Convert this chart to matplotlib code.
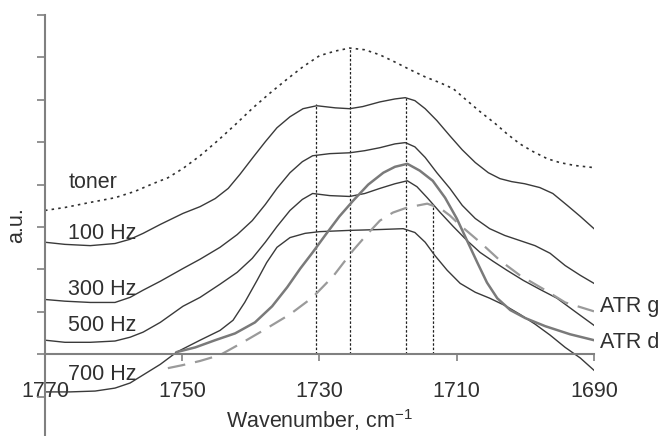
import numpy as np
import matplotlib.pyplot as plt

plt.rcParams['font.family'] = ['Liberation Sans', 'DejaVu Sans']
plt.rcParams['mathtext.fontset'] = 'custom'
plt.rcParams['mathtext.rm'] = 'Liberation Sans'
plt.rcParams['mathtext.default'] = 'regular'
fonts = 15.5
txt_col = '#303030'

# spectra (wavenumber in cm-1, absorbance in a.u.)
toner_wn = [1770, 1767.1, 1763.4, 1759.8, 1756.9, 1754.3, 1752.1, 1749.9, 1747.4, 1744.8, 1742.3, 1739.7,
            1737.2, 1734.7, 1732.4, 1730, 1727.7, 1725.6, 1723.4, 1721.2, 1719, 1716.8, 1714.6, 1712.4,
            1710.5, 1708.5, 1706.6, 1704.4, 1702.7, 1700.8, 1698.9, 1696.8, 1695, 1692.8, 1690]
toner_y = [3.39, 3.46, 3.58, 3.69, 3.84, 4.02, 4.16, 4.38, 4.68, 5.04, 5.41, 5.81,
           6.16, 6.49, 6.78, 7.04, 7.15, 7.22, 7.18, 7.06, 6.89, 6.71, 6.54, 6.40,
           6.26, 5.98, 5.72, 5.44, 5.20, 4.96, 4.78, 4.61, 4.52, 4.45, 4.40]

hz100_wn = [1770, 1767.1, 1763.4, 1759.8, 1757.6, 1755.7, 1753.2, 1749.9, 1747.4, 1745.2, 1743.3, 1741.6,
            1739.7, 1737.9, 1736.2, 1734.3, 1732.4, 1730.4, 1727.7, 1725.6, 1723.7, 1721.2, 1719, 1717.5,
            1716.1, 1714.6, 1712.9, 1711, 1709.2, 1707.3, 1705.4, 1703.7, 1702, 1700.1, 1697.9, 1696,
            1693.9, 1692, 1690]
hz100_y = [2.64, 2.59, 2.56, 2.61, 2.71, 2.85, 3.06, 3.32, 3.48, 3.67, 3.91, 4.24,
           4.64, 5.01, 5.34, 5.60, 5.79, 5.86, 5.81, 5.79, 5.84, 5.95, 6.02, 6.05,
           5.98, 5.79, 5.51, 5.15, 4.82, 4.52, 4.28, 4.14, 4.07, 4.02, 3.93, 3.79,
           3.51, 3.25, 2.96]

hz300_wn = [1770, 1767.1, 1763.4, 1759.8, 1757.6, 1755.7, 1753.2, 1749.9, 1747.4, 1744.5, 1742, 1739.8,
            1737.9, 1736.2, 1734.3, 1732.5, 1731, 1728.5, 1725.6, 1723.4, 1721.2, 1719, 1717.5, 1716.1,
            1714.6, 1712.9, 1711, 1709.2, 1707.3, 1705.2, 1703, 1700.8, 1698.6, 1696.4, 1694.2, 1692, 1690]
hz300_y = [1.29, 1.25, 1.22, 1.22, 1.34, 1.51, 1.72, 2.02, 2.24, 2.52, 2.82, 3.15,
           3.53, 3.91, 4.28, 4.54, 4.68, 4.73, 4.75, 4.80, 4.87, 4.96, 4.99, 4.89,
           4.64, 4.28, 3.91, 3.51, 3.20, 2.96, 2.80, 2.68, 2.56, 2.38, 2.09, 1.86, 1.67]

hz500_wn = [1770, 1767.1, 1763.4, 1759.8, 1757.6, 1755.7, 1753.2, 1749.9, 1747.4, 1744.5, 1742, 1739.8,
            1737.9, 1736.2, 1734.3, 1732.5, 1731, 1728.5, 1725.6, 1723.4, 1721.2, 1719, 1717.2, 1715.8,
            1714.3, 1712.4, 1710.5, 1708.5, 1706.6, 1704.7, 1702.7, 1700.3, 1697.9, 1695.4, 1692.8, 1690]
hz500_y = [0.33, 0.28, 0.28, 0.31, 0.40, 0.52, 0.75, 1.13, 1.34, 1.65, 1.93, 2.26,
           2.64, 3.01, 3.39, 3.65, 3.79, 3.74, 3.72, 3.79, 3.91, 4.02, 4.09, 3.95,
           3.69, 3.34, 3.01, 2.68, 2.40, 2.19, 1.98, 1.74, 1.53, 1.32, 1.01, 0.68]

hz700_wn = [1770, 1766.4, 1762.7, 1759.8, 1757.6, 1755.7, 1753.2, 1750.8, 1747.4, 1744.5, 1742.6, 1740.9,
            1739.1, 1737.7, 1736.2, 1734.3, 1732.1, 1730, 1725.6, 1721.2, 1717.8, 1716.1, 1714.6, 1713.2,
            1711.4, 1709.5, 1707.3, 1705.2, 1703, 1700.8, 1698.6, 1696.4, 1694.2, 1692, 1690]
hz700_y = [-0.89, -0.89, -0.87, -0.80, -0.68, -0.49, -0.24, 0.05, 0.33, 0.56, 0.80, 1.22,
           1.74, 2.16, 2.52, 2.75, 2.85, 2.89, 2.92, 2.94, 2.96, 2.87, 2.64, 2.33,
           1.98, 1.67, 1.46, 1.32, 1.15, 0.94, 0.71, 0.45, 0.16, -0.09, -0.38]

atrg_wn = [1752.1, 1750, 1747.4, 1744.5, 1741.6, 1738.2, 1734.3, 1731, 1728, 1725.1, 1723.1, 1721.2,
           1719.3, 1717.2, 1714.3, 1712.4, 1711, 1709.5, 1706.6, 1703.7, 1700.8, 1697.1, 1694.2, 1692, 1690]
atrg_y = [-0.33, -0.26, -0.16, -0.02, 0.24, 0.56, 0.94, 1.34, 1.84, 2.45, 2.82, 3.15,
          3.34, 3.46, 3.55, 3.44, 3.27, 3.04, 2.64, 2.21, 1.86, 1.51, 1.22, 1.11, 1.01]

atrd_wn = [1750.8, 1748.1, 1745.2, 1742.3, 1739.4, 1736.9, 1734.7, 1732.8, 1731, 1729.1, 1727.1, 1725.1,
           1722.9, 1720.7, 1719, 1717.2, 1715.4, 1713.5, 1711.7, 1710, 1708.5, 1707, 1705.6, 1704.1,
           1702.2, 1700, 1697.1, 1693.5, 1690]
atrd_y = [0.05, 0.16, 0.33, 0.49, 0.75, 1.13, 1.58, 2.02, 2.40, 2.82, 3.25, 3.62,
          4.00, 4.28, 4.42, 4.49, 4.33, 4.09, 3.69, 3.20, 2.68, 2.16, 1.69, 1.32,
          1.04, 0.85, 0.66, 0.47, 0.33]

# marker lines at band positions
vline_wn = [1730.5, 1725.5, 1717.4, 1713.5]
vline_top = [5.9, 7.2, 6.05, 3.5]

labels_left = ['toner', '100 Hz', '300 Hz', '500 Hz', '700 Hz']
labels_left_y = [4.05, 2.85, 1.53, 0.68, -0.47]
labels_right = ['ATR g', 'ATR d']
labels_right_y = [1.13, 0.28]

fig = plt.figure(figsize=(6.63, 4.36), dpi=100)
ax = fig.add_axes([45/663, 0, 549/663, 421/436])

for x, top in zip(vline_wn, vline_top):
    ax.plot([x, x], [0, top], color='#202020', lw=0.9, ls=(0, (2, 1.5)))

ax.plot(toner_wn, toner_y, color='#303030', lw=1.2, ls=(0, (1.5, 2.5)))
for wn, y in [(hz100_wn, hz100_y), (hz300_wn, hz300_y), (hz500_wn, hz500_y), (hz700_wn, hz700_y)]:
    ax.plot(wn, y, color='#3a3a3a', lw=1.0)
ax.plot(atrd_wn, atrd_y, color='#7a7a7a', lw=1.8)
ax.plot(atrg_wn, atrg_y, color='#9a9a9a', lw=1.6, ls=(0, (8, 4.5)))

ax.set_xlim(1770, 1690)
ax.set_ylim(-1.93, 8.0)
ax.set_xticks([1770, 1750, 1730, 1710, 1690])
ax.set_yticks(range(-1, 9))
ax.set_yticklabels([])
ax.spines['right'].set_visible(False)
ax.spines['top'].set_visible(False)
ax.spines['bottom'].set_position(('data', 0))
for s in ['left', 'bottom']:
    ax.spines[s].set_color('#808080')
    ax.spines[s].set_linewidth(1.5)
ax.tick_params(axis='y', direction='out', length=6, width=1.2, color='#808080')
ax.tick_params(axis='x', direction='out', length=5, width=1.2, color='#808080',
               labelsize=fonts, labelcolor=txt_col, pad=14)
ax.patch.set_visible(False)

for lab, y in zip(labels_left, labels_left_y):
    ax.text(1766.6, y, lab, fontsize=fonts, color=txt_col, va='center', ha='left')
for lab, y in zip(labels_right, labels_right_y):
    ax.text(1689.1, y, lab, fontsize=fonts, color=txt_col, va='center', ha='left', clip_on=False)

fig.text(17/663, 1 - 225/436, 'a.u.', rotation=90, fontsize=fonts, color=txt_col,
         ha='center', va='center')
fig.text(319.5/663, 1 - 420/436, 'Wavenumber, cm$^{-1}$', fontsize=fonts, color=txt_col,
         ha='center', va='center')

plt.savefig('out.png', dpi=100)
